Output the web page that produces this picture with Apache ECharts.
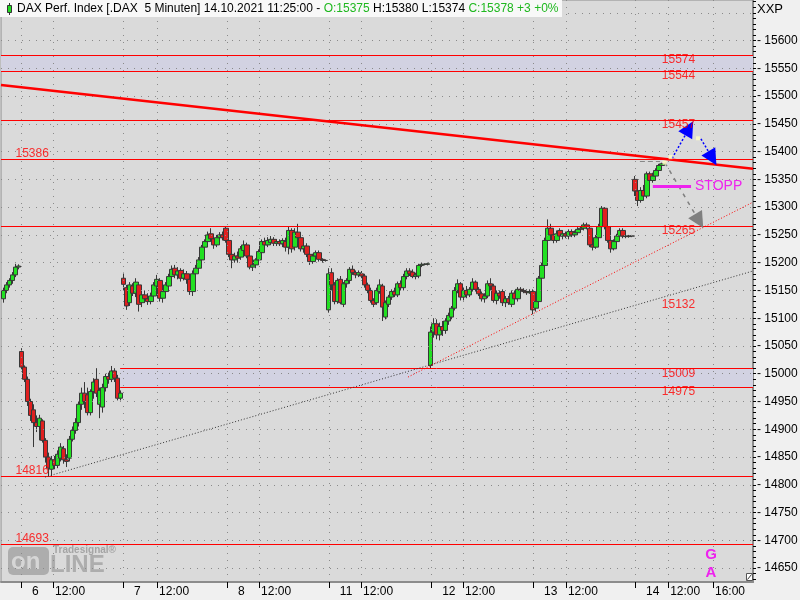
<!DOCTYPE html>
<html><head><meta charset="utf-8">
<script src="https://cdn.jsdelivr.net/npm/echarts@6/dist/echarts.min.js"></script>
<style>html,body{margin:0;padding:0;background:#f0f0f0;}#c{width:800px;height:600px;}</style>
</head><body><div id="c"></div>
<script>
// ---------- DATA ----------
// candles per trading day, each item [open, close, low, high]; one slot ~ 15 min
const dayStartSlots = [0, 6, 40, 74, 108, 142, 176, 210];
const day5 = [[15135,15150,15128,15155],[15150,15160,15145,15165],[15160,15168,15155,15172],[15168,15178,15162,15183],[15178,15192,15174,15198],[15192,15194,15188,15197]];
const day6 = [[15040,15012,15008,15046],[15012,14990,14985,15015],[14990,14950,14942,14995],[14950,14925,14915,14955],[14935,14912,14868,14945],[14912,14905,14895,14925],[14905,14920,14880,14926],[14915,14880,14876,14918],[14880,14850,14840,14884],[14850,14830,14815,14858],[14828,14845,14816,14852],[14845,14835,14828,14852],[14835,14855,14830,14862],[14848,14868,14842,14875],[14865,14845,14838,14870],[14845,14842,14832,14855],[14848,14882,14842,14888],[14882,14898,14878,14905],[14898,14912,14892,14920],[14912,14945,14905,14950],[14945,14965,14935,14975],[14965,14950,14938,14985],[14962,14930,14925,14975],[14930,14968,14925,14972],[14968,14985,14955,14992],[14990,14965,14958,15010],[14945,14970,14920,14975],[14940,14975,14930,14982],[14975,14995,14968,15000],[14995,14990,14982,15002],[14990,15005,14985,15014],[15005,14992,14985,15010],[14992,14956,14952,14998],[14956,14965,14952,14970]];
const day7 = [[15172,15161,15150,15182],[15155,15122,15115,15160],[15128,15160,15122,15165],[15158,15145,15140,15163],[15145,15165,15138,15172],[15160,15125,15112,15165],[15128,15142,15120,15148],[15142,15135,15128,15150],[15135,15130,15124,15145],[15130,15140,15125,15146],[15140,15160,15135,15165],[15158,15170,15150,15178],[15168,15136,15130,15172],[15136,15148,15128,15152],[15148,15160,15140,15165],[15158,15175,15152,15180],[15175,15188,15170,15195],[15190,15178,15172,15196],[15178,15185,15170,15192],[15186,15172,15166,15190],[15172,15180,15168,15188],[15180,15170,15162,15185],[15170,15148,15142,15175],[15148,15180,15140,15186],[15180,15190,15175,15196],[15190,15205,15185,15210],[15205,15228,15200,15232],[15228,15238,15222,15242],[15238,15250,15232,15256],[15252,15243,15238,15262],[15243,15232,15225,15248],[15232,15245,15228,15250],[15245,15250,15238,15255],[15250,15245,15240,15256]];
const day8 = [[15262,15240,15236,15266],[15240,15215,15210,15242],[15215,15205,15190,15220],[15205,15212,15200,15218],[15212,15208,15200,15220],[15210,15225,15205,15230],[15222,15232,15215,15240],[15232,15212,15208,15236],[15212,15192,15188,15215],[15192,15196,15185,15202],[15196,15205,15190,15208],[15205,15220,15200,15224],[15218,15238,15214,15242],[15238,15232,15228,15245],[15232,15240,15228,15246],[15236,15242,15232,15248],[15242,15235,15230,15246],[15235,15238,15230,15242],[15238,15234,15230,15242],[15234,15240,15228,15244],[15238,15228,15220,15245],[15228,15258,15215,15266],[15258,15225,15218,15262],[15228,15255,15222,15262],[15255,15245,15238,15270],[15245,15225,15220,15250],[15225,15230,15218,15236],[15230,15215,15210,15235],[15215,15202,15196,15218],[15202,15212,15198,15216],[15212,15218,15208,15222],[15218,15206,15202,15222],[15206,15204,15200,15208],[15204,15204,15202,15206]];
const day11 = [[15115,15180,15110,15190],[15182,15160,15150,15190],[15160,15130,15125,15165],[15130,15168,15126,15172],[15170,15128,15125,15176],[15125,15162,15120,15165],[15162,15168,15155,15172],[15168,15188,15162,15192],[15188,15182,15178,15195],[15182,15178,15172,15186],[15178,15182,15174,15186],[15180,15176,15172,15185],[15176,15160,15155,15180],[15160,15150,15145,15164],[15150,15132,15128,15155],[15132,15125,15120,15136],[15128,15150,15124,15155],[15148,15160,15144,15170],[15158,15120,15095,15162],[15102,15128,15098,15132],[15125,15138,15120,15142],[15138,15148,15133,15152],[15148,15142,15138,15155],[15142,15162,15138,15166],[15162,15155,15150,15168],[15155,15175,15150,15180],[15175,15185,15170,15190],[15185,15180,15176,15190],[15183,15175,15172,15188],[15175,15178,15170,15182],[15176,15195,15172,15198],[15195,15197,15192,15200],[15197,15197,15195,15199],[15197,15198,15195,15200]];
const day12 = [[15015,15075,15009,15085],[15075,15090,15065,15100],[15090,15070,15062,15098],[15070,15085,15060,15092],[15085,15078,15068,15095],[15078,15095,15072,15100],[15095,15105,15088,15110],[15102,15118,15098,15122],[15118,15150,15114,15156],[15150,15162,15145,15170],[15162,15138,15132,15165],[15138,15150,15132,15155],[15150,15142,15136,15158],[15142,15152,15138,15156],[15152,15165,15148,15172],[15165,15152,15148,15168],[15152,15144,15140,15156],[15144,15135,15130,15148],[15135,15140,15128,15145],[15140,15162,15136,15168],[15162,15158,15150,15172],[15158,15132,15128,15162],[15132,15145,15125,15150],[15145,15140,15135,15150],[15148,15128,15122,15152],[15128,15135,15120,15140],[15135,15128,15124,15140],[15125,15145,15120,15150],[15145,15135,15130,15150],[15135,15152,15130,15156],[15152,15150,15146,15156],[15150,15148,15145,15154],[15148,15146,15142,15152],[15146,15148,15144,15152]];
const day13 = [[15148,15115,15107,15152],[15118,15130,15112,15135],[15130,15172,15125,15176],[15172,15195,15165,15200],[15195,15240,15190,15245],[15240,15262,15232,15278],[15262,15250,15245,15270],[15250,15240,15235,15256],[15240,15252,15236,15258],[15258,15248,15244,15262],[15248,15252,15242,15258],[15252,15248,15244,15256],[15248,15256,15242,15260],[15256,15250,15246,15260],[15250,15254,15246,15258],[15254,15260,15250,15264],[15260,15262,15256,15266],[15262,15268,15258,15272],[15268,15265,15260,15272],[15262,15232,15228,15266],[15232,15228,15222,15238],[15228,15245,15225,15250],[15245,15265,15240,15270],[15265,15298,15260,15302],[15298,15265,15260,15300],[15265,15240,15236,15268],[15240,15225,15218,15244],[15225,15238,15222,15242],[15238,15248,15232,15252],[15248,15258,15244,15262],[15258,15248,15244,15262],[15248,15247,15244,15252],[15247,15248,15245,15250],[15248,15248,15246,15250]];
const day14 = [[15350,15329,15320,15356],[15329,15312,15302,15336],[15312,15330,15308,15336],[15330,15320,15314,15340],[15320,15360,15316,15364],[15360,15348,15344,15364],[15348,15356,15344,15362],[15356,15366,15352,15370],[15366,15375,15360,15378],[15375,15378,15374,15380]];

// x axis ticks (in slot units) and their labels
const xTickVals = [5.85, 16.5, 39.8, 51.1, 74.3, 85.0, 108.2, 118.9, 142.2, 152.8, 176.1, 187.0, 210.0, 221.0, 235.9];
const xTickLabels = ['6','12:00','7','12:00','8','12:00','11','12:00','12','12:00','13','12:00','14','12:00','16:00'];
// y axis tick labels
const yLabelVals = [14650,14700,14750,14800,14850,14900,14950,15000,15050,15100,15150,15200,15250,15300,15350,15400,15450,15500,15550,15600];

// horizontal levels
const levelsFull = [15574, 15544, 15457, 15386, 15265, 14816, 14693];
const levelsPartial = [15009, 14975];
const bandFull = [15574, 15544];
const bandPartial = [15009, 14975];
const labelsRight = [15574, 15544, 15457, 15265, 15132, 15009, 14975];
const labelsLeft = [15386, 14816, 14693];

// drawn trend lines / arrows: [slot, price] pairs
const trendResistance = [[-0.8, 15520], [249.2, 15369]];
const trendSupportRed = [[134.5, 14994], [249.2, 15309]];
const trendSupportBlack = [[13.83, 14814], [249.2, 15185]];
const arrowUp = [[222.3, 15388], [228.0, 15442]];
const arrowDown = [[231.9, 15423], [235.7, 15388]];
const arrowGray = [[219.9, 15380], [231.3, 15275]];
const stoppLine = [[215.9, 15338], [228.6, 15338]];
const grayHLine = [[211.6, 15383], [218.3, 15383]];
const anchorPoints = [[221.8, 15390], [230.9, 15424], [219.8, 15380]];

// ---------- BUILD ----------
const days = [day5, day6, day7, day8, day11, day12, day13, day14];
const candles = [];
days.forEach((d, k) => d.forEach((c, i) => candles.push([dayStartSlots[k] + i, c[0], c[1], c[2], c[3]])));
const last = candles[candles.length - 1];

const SANS = "'Liberation Sans',Arial,sans-serif";
const X_MIN = -0.8, X_MAX = 249.2, Y_MIN = 14625, Y_MAX = 15673;
const PARTIAL_START = 38.8, LABEL_SLOT_R = 219.05, LABEL_SLOT_L = 4.19;

const yMinor = [];
for (let v = 14630; v <= 15670; v += 10) yMinor.push(v);
const yGrid = [];
for (let v = 14650; v <= 15650; v += 50) yGrid.push(v);

function seg(p, style, extra) {
  return [Object.assign({ coord: p[0], lineStyle: style }, extra && extra[0] || {}), Object.assign({ coord: p[1] }, extra && extra[1] || {})];
}
const RED = '#ff0000';

const chart = echarts.init(document.getElementById('c'));
chart.setOption({
  animation: false,
  backgroundColor: '#f0f0f0',
  grid: { left: 1, right: 47, top: 0, bottom: 18, containLabel: false, outerBoundsMode: 'none', show: true, backgroundColor: '#dadada', borderColor: '#8c8c8c', borderWidth: 1 },
  xAxis: {
    type: 'value', min: X_MIN, max: X_MAX,
    axisLine: { show: true, onZero: false, lineStyle: { color: '#8c8c8c', width: 2 } },
    axisTick: { show: true, customValues: xTickVals, length: 6, lineStyle: { color: '#000' } },
    axisLabel: {
      customValues: xTickVals, align: 'left', margin: 4, color: '#000', fontSize: 11, fontFamily: SANS,
      formatter: function (v) {
        let bi = 0;
        xTickVals.forEach((t, i) => { if (Math.abs(t - v) < Math.abs(xTickVals[bi] - v)) bi = i; });
        const s = xTickLabels[bi];
        return s.indexOf(':') >= 0 ? '{t|' + s + '}' : '{d|' + s + '}';
      },
      rich: {
        d: { padding: [0, 0, 0, 11], fontSize: 12, fontFamily: SANS, color: '#000' },
        t: { padding: [0, 0, 0, 2], fontSize: 12, fontFamily: SANS, color: '#000' }
      }
    },
    splitLine: { show: false }
  },
  yAxis: {
    type: 'value', position: 'right', min: Y_MIN, max: Y_MAX,
    axisLine: { show: true, onZero: false, lineStyle: { color: '#8c8c8c', width: 2 } },
    axisTick: { show: true, customValues: yMinor, length: 3, lineStyle: { color: '#000' } },
    axisLabel: { customValues: yLabelVals, formatter: v => '- ' + v, margin: 4, color: '#000', fontSize: 12, fontFamily: SANS },
    splitLine: { show: false }
  },
  series: [
    {
      name: 'grid', type: 'line', data: [[100, 15000]], showSymbol: false, lineStyle: { opacity: 0 }, silent: true, z: 2,
      markLine: {
        silent: true, symbol: 'none', label: { show: false },
        lineStyle: { color: '#8a8a8a', width: 1, type: [1, 6] },
        data: yGrid.map(v => ({ yAxis: v })).concat(xTickVals.map(v => ({ xAxis: v })))
      },
      markArea: {
        silent: true, label: { show: false }, itemStyle: { color: '#d2d2e2' },
        data: [
          [{ yAxis: bandFull[0] }, { yAxis: bandFull[1] }],
          [{ coord: [PARTIAL_START, bandPartial[0]] }, { coord: [X_MAX, bandPartial[1]] }]
        ]
      }
    },
    {
      name: 'DAX', type: 'candlestick', data: candles, encode: { x: 0, y: [1, 2, 3, 4] },
      barWidth: 5, z: 3,
      itemStyle: { color: '#22e022', color0: '#e02020', borderColor: '#383838', borderColor0: '#383838', borderColorDoji: '#383838', borderWidth: 1 }
    },
    {
      name: 'levels', type: 'line', data: [[100, 15000]], showSymbol: false, lineStyle: { opacity: 0 }, silent: true, z: 4,
      markLine: {
        silent: true, symbol: 'none', label: { show: false },
        lineStyle: { color: RED, width: 1, type: 'solid' },
        data: levelsFull.map(v => ({ yAxis: v, lineStyle: { color: RED, width: 1, type: 'solid' } }))
          .concat(levelsPartial.map(v => seg([[PARTIAL_START, v], [X_MAX, v]], { color: RED, width: 1, type: 'solid' })))
          .concat([
            seg(trendResistance, { color: RED, width: 2.5, type: 'solid' }),
            seg(trendSupportRed, { color: RED, width: 1, type: [1, 2] }),
            seg(trendSupportBlack, { color: '#333', width: 1, type: [1, 2] })
          ])
      }
    },
    {
      name: 'drawings', type: 'line', data: [[100, 15000]], showSymbol: false, lineStyle: { opacity: 0 }, silent: true, z: 5,
      markLine: {
        silent: true, symbol: 'none', label: { show: false },
        data: [
          seg(grayHLine, { color: '#888', width: 1, type: [5, 3] }),
          seg(arrowUp, { color: '#0000ff', width: 1.5, type: [2, 2] }, [{ symbol: 'none' }, { symbol: 'triangle', symbolSize: 16 }]),
          seg(arrowDown, { color: '#0000ff', width: 1.5, type: [2, 2] }, [{ symbol: 'none' }, { symbol: 'triangle', symbolSize: 16 }]),
          seg(arrowGray, { color: '#808080', width: 1.5, type: [4, 5] }, [{ symbol: 'none' }, { symbol: 'triangle', symbolSize: 16 }]),
          seg(stoppLine, { color: '#ee22ee', width: 3, type: 'solid' }, [{ label: { show: true, position: 'end', formatter: 'STOPP', color: '#ee22ee', fontSize: 14, fontFamily: SANS, distance: 4, padding: [0, 0, 4, 0] } }, {}])
        ]
      }
    },
    {
      name: 'anchors', type: 'scatter', data: anchorPoints, symbol: 'rect', symbolSize: 4, silent: true, z: 6,
      itemStyle: { color: '#ffffc0' }
    },
    {
      name: 'levelLabels', type: 'scatter', symbolSize: 1, silent: true, z: 7,
      itemStyle: { color: 'rgba(0,0,0,0)' },
      label: { show: true, color: RED, fontSize: 12, fontFamily: SANS, formatter: p => String(p.value[1]) },
      data: labelsRight.map(v => ({ value: [LABEL_SLOT_R, v], label: { position: [0, -1], align: 'left', verticalAlign: 'top' } }))
        .concat(labelsLeft.map(v => ({ value: [LABEL_SLOT_L, v], label: { position: [0, 1], align: 'left', verticalAlign: 'bottom' } })))
    }
  ],
  graphic: [
    // watermark logo
    { type: 'rect', z: 1, shape: { x: 8, y: 547, width: 41, height: 28, r: 5 }, style: { fill: '#adadad' } },
    { type: 'text', z: 1, style: { x: 11, y: 562, text: 'on', fill: '#d6d6d6', font: 'bold 24px ' + SANS, verticalAlign: 'middle' } },
    { type: 'text', z: 1, style: { x: 50, y: 565, text: 'LINE', fill: '#adadad', font: 'bold 24px ' + SANS, verticalAlign: 'middle' } },
    { type: 'text', z: 1, style: { x: 53, y: 550, text: 'Tradesignal®', fill: '#a4a4a4', font: 'bold 10px ' + SANS, verticalAlign: 'middle' } },
    // header
    { type: 'rect', z: 100, shape: { x: 0, y: 0, width: 562, height: 17 }, style: { fill: '#f8f8f8' } },
    { type: 'line', z: 101, shape: { x1: 9.5, y1: 3, x2: 9.5, y2: 15 }, style: { stroke: '#333', lineWidth: 1 } },
    { type: 'rect', z: 102, shape: { x: 7.5, y: 5.5, width: 4, height: 7 }, style: { fill: '#22dd22', stroke: '#333', lineWidth: 1 } },
    {
      type: 'text', z: 101, style: {
        x: 17, y: 9, verticalAlign: 'middle',
        text: '{k|DAX Perf. Index [.DAX  5 Minuten] 14.10.2021 11:25:00 - }{g|O:' + last[1] + '}{k| H:' + last[4] + ' L:' + last[3] + ' }{g|C:' + last[2] + ' +' + (last[2] - last[1]) + ' +0%}',
        rich: { k: { fill: '#000', font: '12px ' + SANS }, g: { fill: '#1fb81f', font: '12px ' + SANS } }
      }
    },
    { type: 'text', z: 101, style: { x: 757, y: 9, text: 'XXP', fill: '#000', font: '13px ' + SANS, verticalAlign: 'middle' } },
    // G / A markers
    { type: 'text', z: 101, style: { x: 711, y: 555, text: 'G', fill: '#ee22ee', font: 'bold 15px ' + SANS, align: 'center', verticalAlign: 'middle' } },
    { type: 'text', z: 101, style: { x: 711, y: 573, text: 'A', fill: '#ee22ee', font: 'bold 15px ' + SANS, align: 'center', verticalAlign: 'middle' } },
    // corner icon
    { type: 'rect', z: 101, shape: { x: 746.5, y: 573.5, width: 6, height: 7 }, style: { fill: '#fff', stroke: '#555', lineWidth: 1 } },
    { type: 'line', z: 102, shape: { x1: 747.5, y1: 579.5, x2: 751.5, y2: 574.5 }, style: { stroke: '#333', lineWidth: 1 } }
  ]
});
</script>
</body></html>
